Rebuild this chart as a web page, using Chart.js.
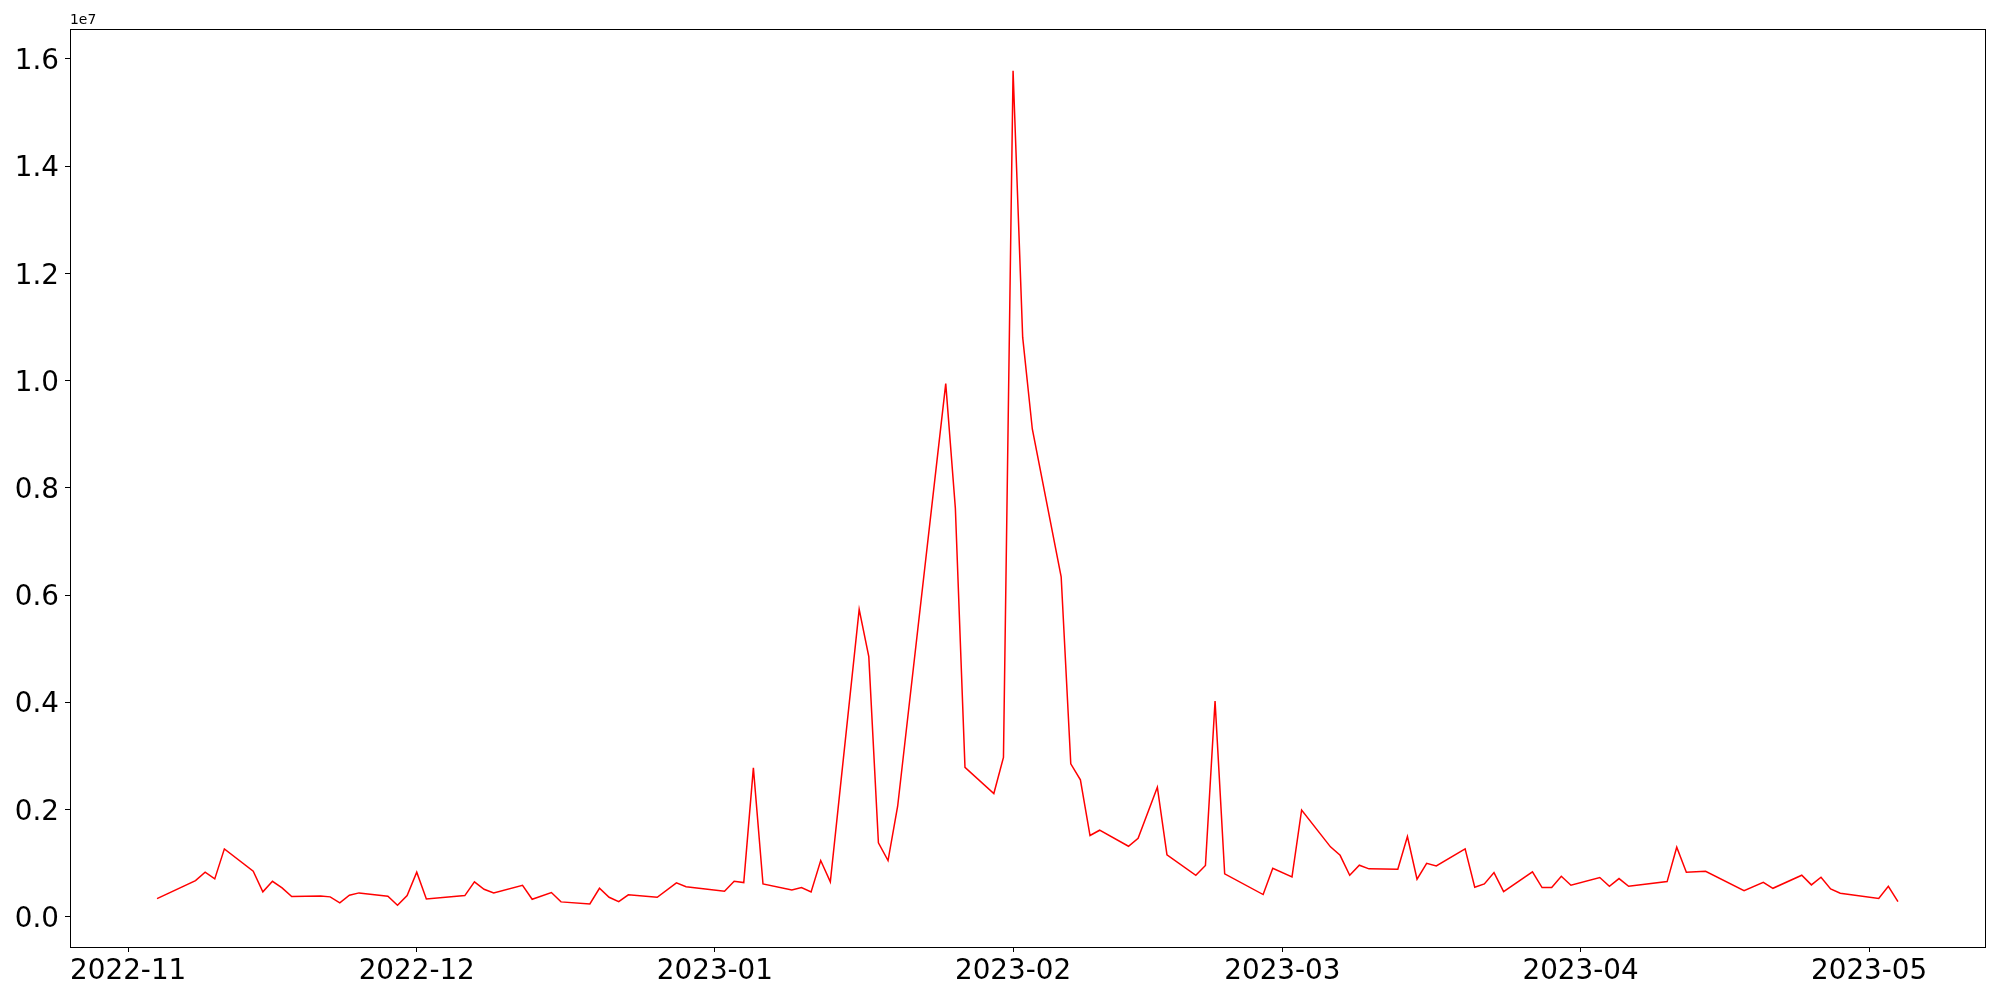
<!DOCTYPE html>
<html>
<head>
<meta charset="utf-8">
<script src="https://cdn.jsdelivr.net/npm/chart.js@4.4.0/dist/chart.umd.min.js"></script>
<style>
  html, body { margin: 0; padding: 0; background: #fff; }
  #wrap { width: 2000px; height: 1000px; }
</style>
</head>
<body>
<div id="wrap"><canvas id="lineChart" width="2000" height="1000"></canvas></div>
<script>
const dates = [
  '2022-11-04', '2022-11-08', '2022-11-09', '2022-11-10', '2022-11-11',
  '2022-11-14', '2022-11-15', '2022-11-16', '2022-11-17', '2022-11-18',
  '2022-11-21', '2022-11-22', '2022-11-23', '2022-11-24', '2022-11-25',
  '2022-11-28', '2022-11-29', '2022-11-30', '2022-12-01', '2022-12-02',
  '2022-12-06', '2022-12-07', '2022-12-08', '2022-12-09',
  '2022-12-12', '2022-12-13', '2022-12-15', '2022-12-16',
  '2022-12-19', '2022-12-20', '2022-12-21', '2022-12-22', '2022-12-23',
  '2022-12-26', '2022-12-28', '2022-12-29',
  '2023-01-02', '2023-01-03', '2023-01-04', '2023-01-05', '2023-01-06',
  '2023-01-09', '2023-01-10', '2023-01-11', '2023-01-12', '2023-01-13',
  '2023-01-16', '2023-01-17', '2023-01-18', '2023-01-19', '2023-01-20',
  '2023-01-25', '2023-01-26', '2023-01-27',
  '2023-01-30', '2023-01-31', '2023-02-01', '2023-02-02', '2023-02-03',
  '2023-02-06', '2023-02-07', '2023-02-08', '2023-02-09', '2023-02-10',
  '2023-02-13', '2023-02-14', '2023-02-16', '2023-02-17',
  '2023-02-20', '2023-02-21', '2023-02-22', '2023-02-23',
  '2023-02-27', '2023-02-28', '2023-03-02', '2023-03-03',
  '2023-03-06', '2023-03-07', '2023-03-08', '2023-03-09', '2023-03-10',
  '2023-03-13', '2023-03-14', '2023-03-15', '2023-03-16', '2023-03-17',
  '2023-03-20', '2023-03-21', '2023-03-22', '2023-03-23', '2023-03-24',
  '2023-03-27', '2023-03-28', '2023-03-29', '2023-03-30', '2023-03-31',
  '2023-04-03', '2023-04-04', '2023-04-05', '2023-04-06',
  '2023-04-10', '2023-04-11', '2023-04-12', '2023-04-14',
  '2023-04-18', '2023-04-20', '2023-04-21',
  '2023-04-24', '2023-04-25', '2023-04-26', '2023-04-27', '2023-04-28',
  '2023-05-02', '2023-05-03', '2023-05-04'
];

const values = [
  338000, 674000, 830000, 705000, 1265000,
  848000, 463000, 660000, 537000, 375000,
  388000, 370000, 257000, 400000, 444000,
  380000, 213000, 394000, 830000, 332000,
  394000, 650000, 512000, 444000,
  586000, 325000, 450000, 276000,
  239000, 530000, 362000, 282000, 407000,
  362000, 630000, 560000,
  474000, 660000, 636000, 2777000, 610000,
  500000, 543000, 462000, 1047000, 650000,
  5733000, 4850000, 1377000, 1047000, 2060000,
  9944000, 7618000, 2785000,
  2298000, 2970000, 15780000, 10805000, 9097000,
  6340000, 2852000, 2553000, 1514000, 1613000,
  1314000, 1464000, 2416000, 1153000,
  773000, 954000, 4021000, 798000,
  413000, 904000, 743000, 1990000,
  1303000, 1145000, 773000, 960000, 892000,
  885000, 1495000, 700000, 995000, 948000,
  1265000, 549000, 612000, 823000, 469000,
  836000, 543000, 543000, 754000, 586000,
  730000, 568000, 711000, 568000,
  655000, 1296000, 830000, 848000,
  487000, 642000, 530000,
  773000, 593000, 736000, 518000, 437000,
  338000, 568000, 282000
];

const monthTicks = ['2022-11-01', '2022-12-01', '2023-01-01', '2023-02-01', '2023-03-01', '2023-04-01', '2023-05-01'];
const yTicks = [0, 2000000, 4000000, 6000000, 8000000, 10000000, 12000000, 14000000, 16000000];

const DAY = 86400000;
const t0 = Date.UTC(2022, 10, 1);
function dayNum(s) {
  const [y, m, d] = s.split('-').map(Number);
  return (Date.UTC(y, m - 1, d) - t0) / DAY;
}

const xs = dates.map(dayNum);
const points = xs.map((x, i) => ({ x: x, y: values[i] }));
const monthDays = monthTicks.map(dayNum);

// matplotlib-like 5% margins
const xSpan = xs[xs.length - 1] - xs[0];
const yMinV = Math.min(...values), yMaxV = Math.max(...values);
const ySpan = yMaxV - yMinV;

Chart.defaults.font.family = 'DejaVu Sans';
Chart.defaults.font.size = 27.8;
Chart.defaults.color = '#000';

const framePlugin = {
  id: 'frame',
  afterDraw(chart) {
    const { ctx, chartArea: a } = chart;
    ctx.save();
    ctx.strokeStyle = '#000';
    ctx.lineWidth = 1;
    ctx.strokeRect(Math.round(a.left) + 0.5, Math.round(a.top) + 0.5,
      Math.round(a.right - a.left), Math.round(a.bottom - a.top));
    ctx.font = '13.9px "DejaVu Sans"';
    ctx.fillStyle = '#000';
    ctx.textAlign = 'left';
    ctx.textBaseline = 'bottom';
    ctx.fillText('1e7', a.left, a.top - 2);
    ctx.restore();
  }
};

new Chart(document.getElementById('lineChart'), {
  type: 'line',
  data: {
    datasets: [{
      data: points,
      borderColor: '#ff0000',
      borderWidth: 1.5,
      pointRadius: 0,
      tension: 0,
      fill: false
    }]
  },
  options: {
    responsive: false,
    animation: false,
    devicePixelRatio: 1,
    layout: { padding: { top: 29, right: 15, left: 0, bottom: 0 } },
    plugins: { legend: { display: false }, tooltip: { enabled: false } },
    scales: {
      x: {
        type: 'linear',
        min: xs[0] - 0.05 * xSpan,
        max: xs[xs.length - 1] + 0.05 * xSpan,
        afterBuildTicks: (scale) => { scale.ticks = monthDays.map(v => ({ value: v })); },
        afterFit: (scale) => { scale.height = 53; },
        grid: { drawOnChartArea: false, drawTicks: true, tickLength: 5, color: '#000' },
        border: { display: true, color: '#000' },
        ticks: {
          autoSkip: false,
          maxRotation: 0,
          padding: 3,
          callback: (v, i) => monthTicks[i].slice(0, 7)
        }
      },
      y: {
        min: yMinV - 0.05 * ySpan,
        max: yMaxV + 0.05 * ySpan,
        afterBuildTicks: (scale) => { scale.ticks = yTicks.map(v => ({ value: v })); },
        afterFit: (scale) => { scale.width = 70; },
        grid: { drawOnChartArea: false, drawTicks: true, tickLength: 5, color: '#000' },
        border: { display: true, color: '#000' },
        ticks: {
          padding: 6,
          labelOffset: 3,
          callback: (v) => (v / 1e7).toFixed(1)
        }
      }
    }
  },
  plugins: [framePlugin]
});
</script>
</body>
</html>
